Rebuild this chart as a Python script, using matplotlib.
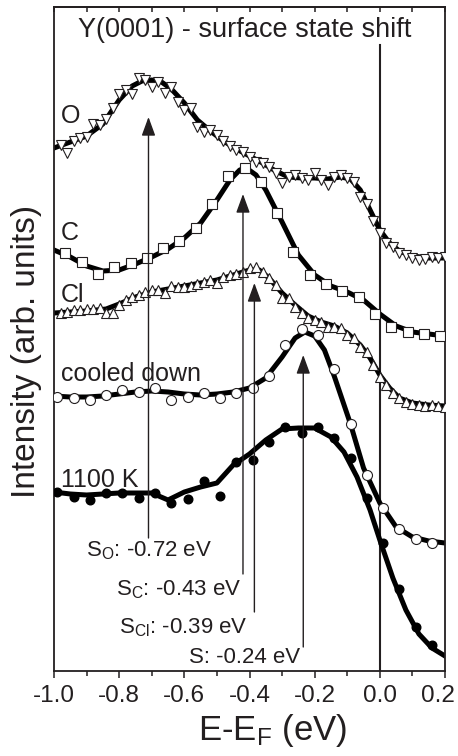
import matplotlib.pyplot as plt
from matplotlib.ticker import MultipleLocator
from matplotlib.transforms import ScaledTranslation

plt.rcParams['font.family'] = ['Liberation Sans', 'DejaVu Sans']
plt.rcParams['axes.unicode_minus'] = False
plt.rcParams['mathtext.default'] = 'regular'

TXT = '#231f20'

# energies of the measured points (eV)
e_fine = [-0.98, -0.96, -0.94, -0.92, -0.90, -0.88, -0.86, -0.84, -0.82, -0.80,
          -0.78, -0.76, -0.74, -0.72, -0.70, -0.68, -0.66, -0.64, -0.62, -0.60,
          -0.58, -0.56, -0.54, -0.52, -0.50, -0.48, -0.46, -0.44, -0.42, -0.40,
          -0.38, -0.36, -0.34, -0.32, -0.30, -0.28, -0.26, -0.24, -0.22, -0.20,
          -0.18, -0.16, -0.14, -0.12, -0.10, -0.08, -0.06, -0.04, -0.02, 0.00,
          0.02, 0.04, 0.06, 0.08, 0.10, 0.12, 0.14, 0.16, 0.18, 0.20]
e_c = [-0.965, -0.915, -0.865, -0.815, -0.765, -0.715, -0.665, -0.615, -0.565, -0.515,
       -0.465, -0.415, -0.365, -0.315, -0.265, -0.215, -0.165, -0.115, -0.065, -0.015,
       0.035, 0.085, 0.135, 0.185]
e_coarse = [-0.99, -0.94, -0.89, -0.84, -0.79, -0.74, -0.69, -0.64, -0.59, -0.54,
            -0.49, -0.44, -0.39, -0.34, -0.29, -0.24, -0.19, -0.14, -0.09, -0.04,
            0.01, 0.06, 0.11, 0.16]

# intensities (arb. units, curves offset vertically)
o_pts = [526, 518, 530, 533, 534, 547, 546, 552, 563, 577, 581, 577, 593, 591, 584,
         589, 578, 584, 569, 561, 563, 544, 539, 541, 536, 530, 525, 521, 519, 514,
         509, 508, 504, 498, 488, 494, 496, 493, 491, 498, 491, 486, 494, 496, 493,
         489, 474, 467, 450, 438, 428, 424, 418, 416, 413, 411, 412, 414, 413, 414]
c_pts = [418, 409, 397, 404, 408, 413, 423, 430, 443, 467, 495, 503, 489, 458, 419,
         396, 387, 380, 374, 357, 344, 339, 337, 335]
cl_pts = [358, 359, 361, 361, 362, 362, 363, 358, 358, 366, 371, 374, 376, 379, 381,
          381, 378, 385, 384, 384, 385, 387, 389, 391, 388, 394, 396, 397, 399, 403,
          404, 399, 393, 386, 373, 373, 364, 358, 353, 351, 349, 344, 344, 343, 336,
          333, 324, 319, 306, 294, 286, 278, 273, 269, 267, 266, 265, 266, 265, 264]
cool_pts = [274, 273, 271, 276, 281, 279, 283, 271, 274, 278, 273, 278, 283, 295, 326,
            342, 336, 302, 247, 196, 163, 142, 132, 128]
hot_pts = [179, 174, 171, 178, 178, 173, 178, 168, 172, 190, 175, 209, 211, 229, 244,
           238, 244, 233, 213, 173, 128, 82, 44, 26]

# smoothed curves
o_line_e = [-1.00, -0.95, -0.90, -0.85, -0.80, -0.76, -0.73, -0.70, -0.67, -0.64, -0.60,
            -0.56, -0.52, -0.48, -0.44, -0.40, -0.36, -0.32, -0.28, -0.24, -0.20, -0.16,
            -0.12, -0.09, -0.06, -0.03, 0.00, 0.03, 0.06, 0.10, 0.15, 0.20]
o_line = [523, 529, 535, 547, 571, 585, 590, 591, 589, 582, 568, 551, 540, 530, 522,
          515, 508, 500, 494, 493, 493, 492, 494, 492, 481, 461, 441, 428, 420, 415,
          413, 413]
c_line_e = [-1.00, -0.95, -0.90, -0.85, -0.80, -0.75, -0.70, -0.65, -0.60, -0.55, -0.50,
            -0.46, -0.43, -0.41, -0.38, -0.35, -0.30, -0.25, -0.20, -0.15, -0.10, -0.05,
            0.00, 0.05, 0.10, 0.15, 0.20]
c_line = [421, 414, 405, 400, 401, 407, 414, 422, 433, 448, 471, 491, 501, 503, 496,
          481, 449, 416, 396, 385, 379, 371, 357, 345, 339, 337, 335]
cl_line_e = [-1.00, -0.90, -0.84, -0.80, -0.75, -0.70, -0.65, -0.60, -0.55, -0.50, -0.45,
             -0.40, -0.37, -0.34, -0.30, -0.26, -0.22, -0.18, -0.14, -0.10, -0.06, -0.03,
             0.00, 0.03, 0.06, 0.10, 0.15, 0.20]
cl_line = [358, 360, 362, 367, 374, 379, 382, 385, 388, 391, 396, 401, 401, 393, 378,
           366, 355, 349, 345, 338, 326, 313, 296, 283, 273, 268, 266, 265]
cool_line_e = [-1.00, -0.95, -0.90, -0.85, -0.80, -0.75, -0.70, -0.65, -0.60, -0.55,
               -0.50, -0.45, -0.40, -0.35, -0.30, -0.26, -0.23, -0.20, -0.17, -0.14,
               -0.09, -0.05, 0.00, 0.05, 0.10, 0.15, 0.20]
cool_line = [275, 274, 274, 275, 277, 279, 280, 279, 277, 276, 277, 279, 283, 293, 314,
             333, 339, 335, 321, 295, 247, 203, 168, 144, 134, 130, 128]
hot_line_e = [-1.00, -0.95, -0.90, -0.85, -0.80, -0.75, -0.70, -0.65, -0.60, -0.55,
              -0.50, -0.45, -0.40, -0.35, -0.30, -0.25, -0.20, -0.15, -0.11, -0.07,
              -0.03, 0.00, 0.04, 0.08, 0.12, 0.16, 0.20]
hot_line = [179, 177, 176, 177, 178, 178, 178, 171, 179, 184, 188, 206, 217, 231, 242,
            243, 243, 234, 219, 194, 161, 131, 93, 61, 37, 23, 15]

# surface state arrows: position, tip, foot; labels
arrow_e = [-0.71, -0.42, -0.385, -0.235]
arrow_tip = [554, 477, 388, 316]
arrow_foot = [133, 97, 59, 24]
shift_labels = ['S$_{O}$: -0.72 eV', 'S$_{C}$: -0.43 eV', 'S$_{Cl}$: -0.39 eV', 'S: -0.24 eV']
shift_label_x = [-0.902, -0.809, -0.80, -0.585]
shift_label_y = [115, 76, 38, 8]

curve_names = ['O', 'C', 'Cl', 'cooled down', '1100 K']
curve_name_y = [548, 431, 369, 290, 184]

x_ticks = [-1.0, -0.8, -0.6, -0.4, -0.2, 0.0, 0.2]
x_ticklabels = ['-1.0', '-0.8', '-0.6', '-0.4', '-0.2', '0.0', '0.2']

fig = plt.figure(figsize=(4.58, 7.56), dpi=100)
ax = fig.add_axes([54 / 458, 85 / 756, 391 / 458, 664 / 756])

lw = 3.6
mk = dict(markeredgecolor=TXT, markeredgewidth=0.8, linestyle='none', zorder=3)
ax.plot(o_line_e, o_line, color='k', lw=lw, zorder=2)
ax.plot(e_fine, o_pts, marker='v', markersize=7.5, markerfacecolor='white', **mk)
ax.plot(c_line_e, c_line, color='k', lw=lw, zorder=2)
ax.plot(e_c, c_pts, marker='s', markersize=6.8, markerfacecolor='white', **mk)
ax.plot(cl_line_e, cl_line, color='k', lw=lw, zorder=2)
ax.plot(e_fine, cl_pts, marker='^', markersize=7.5, markerfacecolor='white', **mk)
ax.plot(cool_line_e, cool_line, color='k', lw=lw, zorder=2)
ax.plot(e_coarse, cool_pts, marker='o', markersize=7.2, markerfacecolor='white', **mk)
ax.plot(hot_line_e, hot_line, color='k', lw=lw, zorder=2)
ax.plot(e_coarse, hot_pts, marker='o', markersize=6.2, markerfacecolor='k',
        markeredgecolor='k', linestyle='none', zorder=3)

# Fermi level
ax.plot([0, 0], [0, 626], color=TXT, lw=1.5, zorder=1)

for x, tip, foot in zip(arrow_e, arrow_tip, arrow_foot):
    ax.annotate('', xy=(x, tip), xytext=(x, foot),
                arrowprops=dict(arrowstyle='-|>,head_length=1.15,head_width=0.42',
                                mutation_scale=10, lw=1.0, color=TXT,
                                shrinkA=0, shrinkB=0), zorder=4)

for txt, x, y in zip(shift_labels, shift_label_x, shift_label_y):
    ax.text(x, y, txt, ha='left', va='baseline', fontsize=16, color=TXT)

for txt, y in zip(curve_names, curve_name_y):
    ax.text(-0.978, y, txt, ha='left', va='baseline', fontsize=18, color=TXT)

ax.text(-0.415, 634, 'Y(0001) - surface state shift', ha='center', va='baseline',
        fontsize=19.5, color=TXT)

ax.set_xlim(-1.0, 0.2)
ax.set_ylim(0, 664)
ax.set_xticks(x_ticks)
ax.set_xticklabels(x_ticklabels)
ax.xaxis.set_minor_locator(MultipleLocator(0.1))
ax.set_yticks([])
ax.tick_params(axis='x', which='both', direction='out', labelsize=17.5,
               labelcolor=TXT, color=TXT, width=1.1, pad=5)
ax.tick_params(axis='x', which='major', length=5)
ax.tick_params(axis='x', which='minor', length=3.5)

top = ax.secondary_xaxis('top')
top.xaxis.set_major_locator(MultipleLocator(0.1))
top.tick_params(axis='x', direction='in', length=3.5, width=1.1, color=TXT,
                labeltop=False)
top.spines['top'].set_linewidth(1.3)
top.spines['top'].set_color(TXT)

for s in ax.spines.values():
    s.set_linewidth(1.3)
    s.set_color(TXT)

ax.set_xlabel('E-E$_{F}$ (eV)', fontsize=25, color=TXT)
ax.xaxis.set_label_coords(0.56, -0.062)
ax.set_ylabel('Intensity (arb. units)', fontsize=24, color=TXT)
ax.yaxis.set_label_coords(-0.03, 0.482)

# keep the last tick label inside the figure, as in the original
last = ax.get_xticklabels()[-1]
last.set_transform(last.get_transform() + ScaledTranslation(-7 / 100, 0, fig.dpi_scale_trans))

fig.savefig('out.png', dpi=100)
